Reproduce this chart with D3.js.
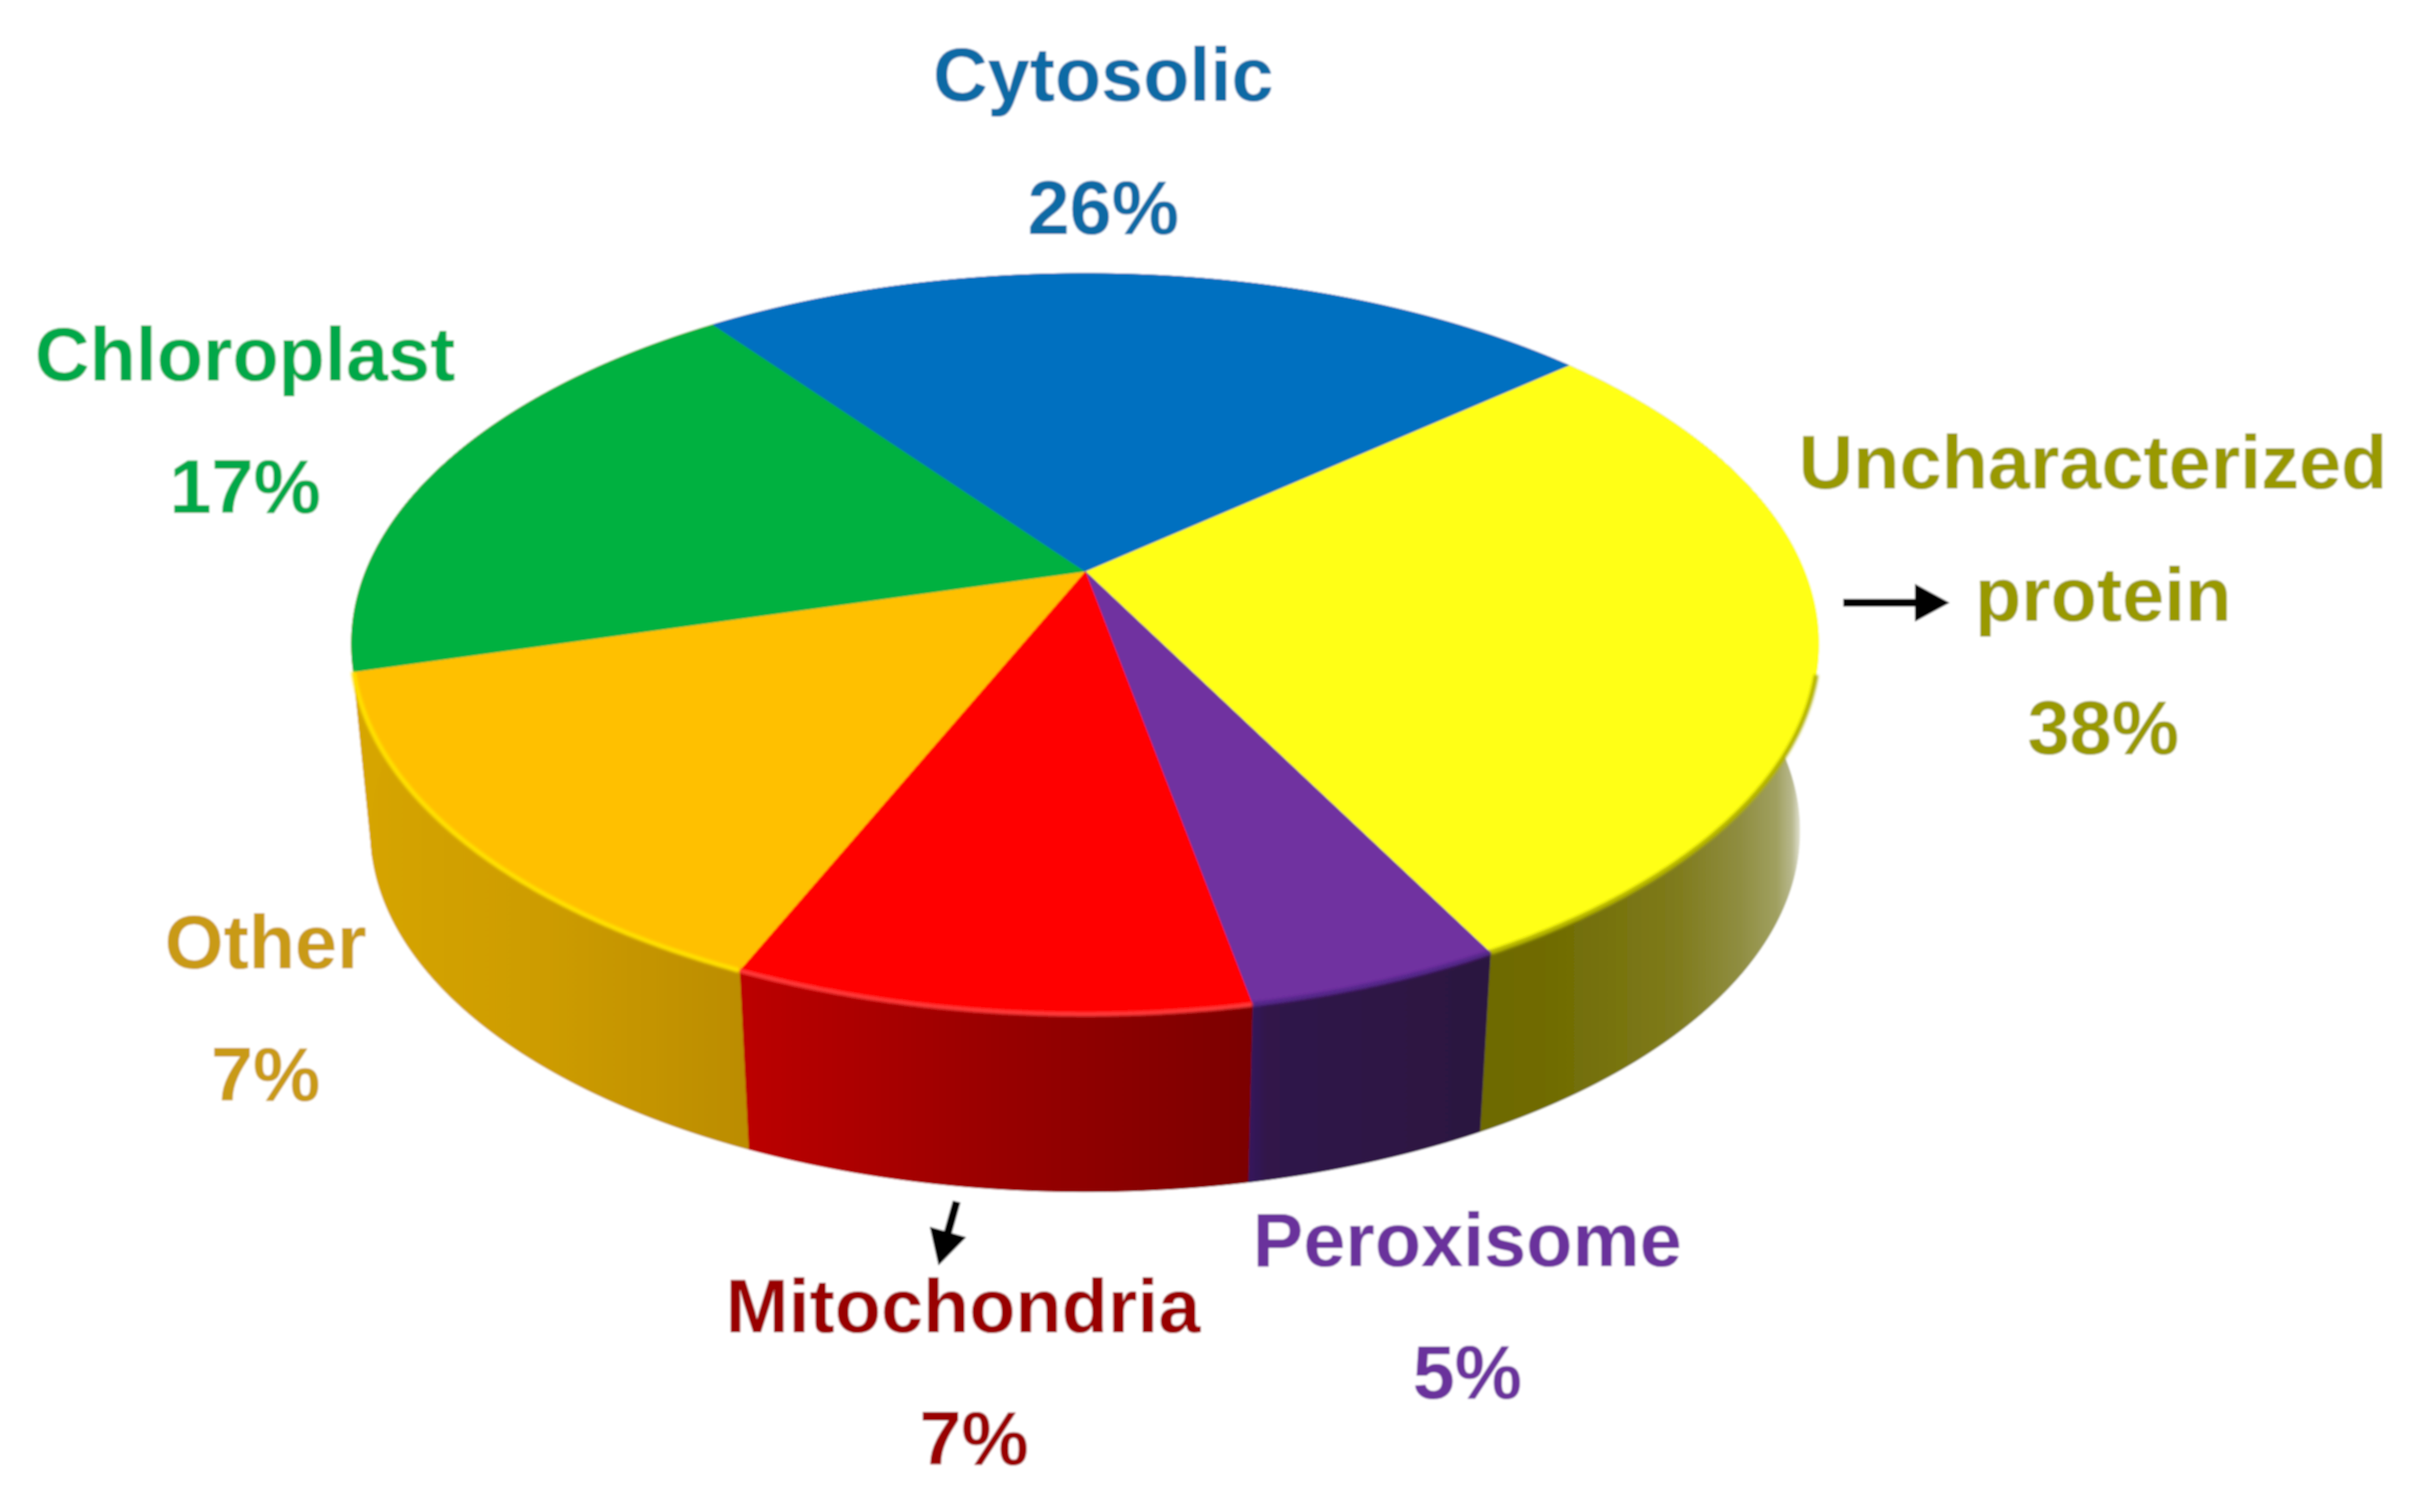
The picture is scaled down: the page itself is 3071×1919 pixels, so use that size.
<!DOCTYPE html>
<html>
<head>
<meta charset="utf-8">
<script src="https://cdn.jsdelivr.net/npm/d3@7"></script>
<style>html,body{margin:0;padding:0;background:#fff}svg{display:block}</style>
</head>
<body>
<svg id="chart" width="3071" height="1919"></svg>
<script>
// Slice order runs clockwise from the blue/yellow boundary.
const categories = ["Uncharacterized protein", "Peroxisome", "Mitochondria", "Other", "Chloroplast", "Cytosolic"];
// Percentages printed in the labels.
const percentLabels = [38, 5, 7, 7, 17, 26];
// Slice sizes as drawn in the picture (they differ from the printed percentages).
const drawnShares = [28.6, 4.7, 9.45, 14.25, 19.1, 23.9];
const topColors = ["#FFFF12", "#7030A0", "#FF0000", "#FFC000", "#00B140", "#0070C0"];
const rimColors = ["#B4B400", "#55288a", "#FF3A3A", "#FFE000", "none", "none"];
const textColors = ["#999900", "#6B319C", "#990000", "#C99A14", "#06A848", "#0A6AA5"];
const sideStops = [
  [[0, "#6E6A00"], [.2, "#706C02"], [.6, "#7F7B1C"], [.8, "#8F8D40"], [.92, "#A0A060"], [.97, "#B8B88E"], [1, "#E8E8DC"]],
  [[0, "#34185A"], [.06, "#30164A"], [1, "#2C1440"]],
  [[0, "#BC0000"], [.5, "#990000"], [1, "#7C0000"]],
  [[0, "#D6A500"], [.5, "#CD9C00"], [1, "#BC8D00"]],
  [[0, "#D6A500"], [1, "#D6A500"]],
  [[0, "#004F88"], [1, "#004F88"]]
];

// Label layout, by slice: each line is [text, centre x, baseline y].
const labelLayout = [
  [["Uncharacterized", 2656, 620], ["protein", 2669, 788], ["%", 2669, 957]],
  [["Peroxisome", 1862, 1607], ["%", 1862, 1775]],
  [["Mitochondria", 1222, 1691], ["%", 1236, 1859]],
  [["Other", 337, 1229], ["%", 337, 1397]],
  [["Chloroplast", 311, 483], ["%", 311, 651]],
  [["Cytosolic", 1400, 128], ["%", 1400, 297]]
];

const W = 3071, H = 1919;
const apex = {x: 1377, y: 725};
const tilt = 0.196;           // perspective strength of the disc
const halfW = 913, halfH = 452;
const rimScale = 0.974, depth = 240;
const yellowRimStart = 1.85;  // the bevel on the yellow slice only shows on its near side

const xScale = d3.scaleLinear().domain([-1, 1]).range([apex.x - halfW, apex.x + halfW]);
const yScale = d3.scaleLinear().domain([-1, 1]).range([apex.y - halfH, apex.y + halfH]);

// Projects a point of the unit circle at pie angle a on the top or lower rim.
function project(a, lower) {
  const u = Math.sin(a), v = -Math.cos(a), w = 1 - tilt * v;
  const s = lower ? rimScale : 1;
  const d = lower ? depth : 0;
  return [
    apex.x + s * (xScale(u / w) - apex.x),
    apex.y + d + s * (yScale(v / w) - apex.y)
  ];
}
const arcPoints = (a0, a1, lower) => d3.range(0, 121).map(i => project(a0 + (a1 - a0) * i / 120, lower));

const start = 49.3 * Math.PI / 180;
const slices = d3.pie().sort(null).value(d => d).startAngle(start).endAngle(start + 2 * Math.PI)(drawnShares);
const line = d3.line();

const svg = d3.select("#chart");
const defs = svg.append("defs");
const blur = defs.append("filter").attr("id", "soft").attr("x", "-5%").attr("y", "-5%").attr("width", "110%").attr("height", "110%");
blur.append("feGaussianBlur").attr("stdDeviation", 1.1);
const rimBlur = defs.append("filter").attr("id", "rimSoft").attr("filterUnits", "userSpaceOnUse")
  .attr("x", 0).attr("y", 0).attr("width", W).attr("height", H);
rimBlur.append("feGaussianBlur").attr("stdDeviation", 1.8);

slices.forEach((s, i) => {
  const xs = arcPoints(s.startAngle, s.endAngle, false).map(p => p[0]);
  const grad = defs.append("linearGradient").attr("id", "side" + i).attr("gradientUnits", "userSpaceOnUse")
    .attr("x1", d3.min(xs)).attr("x2", i === 0 ? 2286 : d3.max(xs)).attr("y1", 0).attr("y2", 0);
  sideStops[i].forEach(st => grad.append("stop").attr("offset", st[0]).attr("stop-color", st[1]));
});

const g = svg.append("g").attr("filter", "url(#soft)");
g.append("rect").attr("width", W).attr("height", H).attr("fill", "#fff");

// Sides
g.selectAll("path.side").data(slices).join("path").attr("class", "side")
  .attr("d", s => line(arcPoints(s.startAngle, s.endAngle, false)
      .concat(arcPoints(s.endAngle, s.startAngle, true))) + "Z")
  .attr("fill", (s, i) => `url(#side${i})`)
  .attr("stroke", (s, i) => `url(#side${i})`).attr("stroke-width", 1);

// Top faces
g.selectAll("path.top").data(slices).join("path").attr("class", "top")
  .attr("d", s => line([[apex.x, apex.y]].concat(arcPoints(s.startAngle, s.endAngle, false))) + "Z")
  .attr("fill", (s, i) => topColors[i])
  .attr("stroke", (s, i) => topColors[i]).attr("stroke-width", 1);

// Bevel along the rim of the top face
g.selectAll("path.rim").data(slices).join("path").attr("class", "rim")
  .attr("d", (s, i) => line(arcPoints(i === 0 ? yellowRimStart : s.startAngle, s.endAngle, false)))
  .attr("fill", "none")
  .attr("stroke", (s, i) => rimColors[i]).attr("stroke-width", 6)
  .attr("filter", "url(#rimSoft)");

// Arrows
const arrows = [
  {x1: 2339, y1: 765, x2: 2474, y2: 765},
  {x1: 1214, y1: 1525, x2: 1191, y2: 1606}
];
arrows.forEach(a => {
  const deg = Math.atan2(a.y2 - a.y1, a.x2 - a.x1) * 180 / Math.PI;
  const len = Math.hypot(a.x2 - a.x1, a.y2 - a.y1);
  const ag = g.append("g").attr("transform", `translate(${a.x1},${a.y1}) rotate(${deg})`);
  ag.append("rect").attr("x", 0).attr("y", -5).attr("width", len - 40).attr("height", 10).attr("fill", "#000");
  ag.append("path").attr("d", line([[len - 44, -24], [len, 0], [len - 44, 24]]) + "Z").attr("fill", "#000");
});

// Labels
categories.forEach((c, i) => {
  labelLayout[i].forEach(l => {
    g.append("text")
      .attr("x", l[1]).attr("y", l[2])
      .attr("text-anchor", "middle")
      .attr("font-family", "'Liberation Sans', Arial, sans-serif")
      .attr("font-weight", 700).attr("font-size", 96)
      .attr("fill", textColors[i])
      .text(l[0] === "%" ? percentLabels[i] + "%" : l[0]);
  });
});
</script>
</body>
</html>
